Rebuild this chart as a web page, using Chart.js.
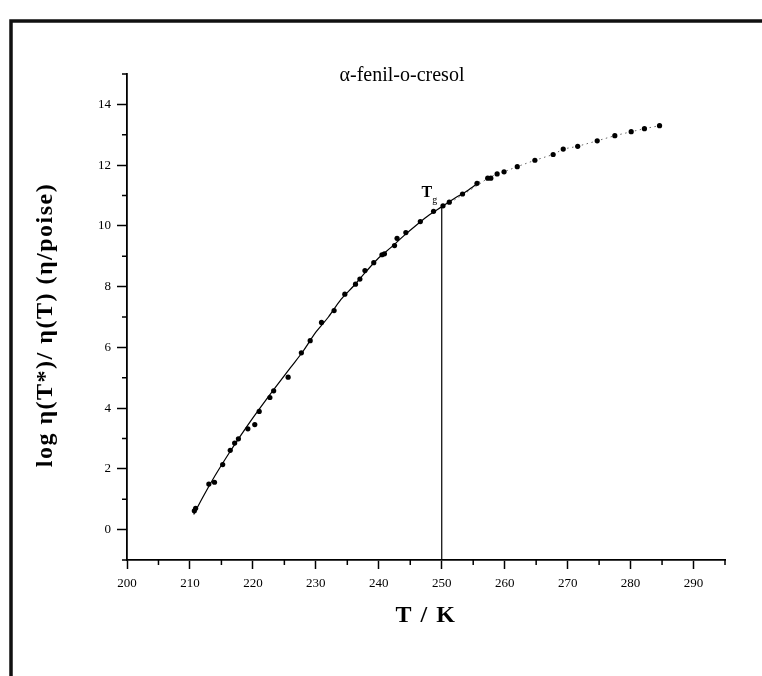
<!DOCTYPE html>
<html>
<head>
<meta charset="utf-8">
<script src="https://cdn.jsdelivr.net/npm/chart.js@4.4.1/dist/chart.umd.min.js"></script>
<style>
  body { margin: 0; background: #fff; }
  #chart { display: block; }
</style>
</head>
<body>
<canvas id="chart" width="762" height="676"></canvas>
<script>
// measured points, T (K) and log eta(T*)/eta(T)
const pointT = [210.7, 210.9, 213.0, 213.9, 215.2, 216.4, 217.1, 217.7, 219.2, 220.3,
  221.0, 222.7, 223.3, 225.6, 227.7, 229.1, 230.9, 232.9, 234.6, 236.3,
  237.0, 237.8, 239.2, 240.5, 240.9, 242.5, 242.9, 244.3, 246.6, 248.7,
  250.2, 251.2, 253.3, 255.6, 257.3, 257.8, 258.8, 259.9, 262.0, 264.8,
  267.7, 269.3, 271.6, 274.7, 277.5, 280.1, 282.2, 284.6];
const pointY = [0.62, 0.70, 1.50, 1.56, 2.14, 2.61, 2.85, 2.99, 3.32, 3.46,
  3.89, 4.35, 4.57, 5.02, 5.82, 6.22, 6.82, 7.21, 7.75, 8.08,
  8.25, 8.53, 8.79, 9.05, 9.08, 9.35, 9.59, 9.78, 10.14, 10.48,
  10.66, 10.78, 11.05, 11.40, 11.57, 11.57, 11.71, 11.78, 11.95, 12.16,
  12.35, 12.53, 12.62, 12.80, 12.97, 13.10, 13.20, 13.30];

// solid fitted curve
const fitT = [210.6, 212, 214, 216, 218, 220, 222, 224, 226, 228, 230, 232,
  234, 236, 238, 240, 242, 244, 246, 248, 250, 252, 254, 256];
const fitY = [0.5, 1.05, 1.78, 2.45, 3.08, 3.68, 4.25, 4.8, 5.34, 5.88, 6.5, 7.0,
  7.58, 8.02, 8.5, 8.95, 9.3, 9.68, 10.03, 10.36, 10.63, 10.9, 11.15, 11.45];

// dotted continuation above Tg
const dotT = [252.0, 253.3, 255.6, 257.3, 258.8, 259.9, 262.0, 264.8, 267.7,
  269.3, 271.6, 274.7, 277.5, 280.1, 282.2, 284.6];
const dotY = [10.85, 11.02, 11.32, 11.57, 11.71, 11.78, 11.95, 12.16, 12.35,
  12.53, 12.62, 12.80, 12.97, 13.10, 13.20, 13.30];

// glass transition
const tgT = 250;
const tgY = 10.63;

const xMin = 200, xMax = 295;
const yMin = -1, yMax = 15;

const chartTitle = 'α-fenil-o-cresol';
const xTitle = 'T / K';
const yTitle = 'log η(T*)/ η(T) (η/poise)';

const serif = "'Liberation Serif', 'DejaVu Serif', serif";

function toXY(xs, ys) {
  return xs.map((x, i) => ({ x: x, y: ys[i] }));
}

// frame, titles, Tg label and minor ticks
const extras = {
  id: 'extras',
  afterDraw(chart) {
    const ctx = chart.ctx;
    const xs = chart.scales.x;
    const ys = chart.scales.y;
    const area = chart.chartArea;
    ctx.save();

    // scan frame
    ctx.strokeStyle = '#111';
    ctx.lineWidth = 3.5;
    ctx.beginPath();
    ctx.moveTo(11, 676);
    ctx.lineTo(11, 21);
    ctx.lineTo(762, 21);
    ctx.stroke();

    // minor ticks
    ctx.strokeStyle = '#000';
    ctx.lineWidth = 1.5;
    ctx.beginPath();
    xs.ticks.forEach(t => {
      if (t.value % 10 !== 0) {
        const px = xs.getPixelForValue(t.value);
        ctx.moveTo(px, xs.top);
        ctx.lineTo(px, xs.top + 5);
      }
    });
    ys.ticks.forEach(t => {
      if (Math.abs(t.value % 2) === 1) {
        const py = ys.getPixelForValue(t.value);
        ctx.moveTo(ys.right, py);
        ctx.lineTo(ys.right - 5, py);
      }
    });
    ctx.stroke();

    // chart title
    ctx.fillStyle = '#000';
    ctx.textAlign = 'center';
    ctx.textBaseline = 'middle';
    ctx.font = '20px ' + serif;
    ctx.fillText(chartTitle, 402, 76);

    // axis titles
    ctx.font = 'bold 24px ' + serif;
    ctx.letterSpacing = '1.5px';
    ctx.fillText(xTitle, (area.left + area.right) / 2, 616);
    ctx.save();
    ctx.translate(46, (area.top + area.bottom) / 2 + 8);
    ctx.rotate(-Math.PI / 2);
    ctx.fillText(yTitle, 0, 0);
    ctx.restore();
    ctx.letterSpacing = '0px';

    // Tg label
    const lx = xs.getPixelForValue(tgT) - 15;
    const ly = ys.getPixelForValue(tgY) - 14;
    ctx.font = 'bold 16px ' + serif;
    ctx.fillText('T', lx, ly);
    ctx.font = '10px ' + serif;
    ctx.fillText('g', lx + 8, ly + 8);

    ctx.restore();
  }
};

new Chart(document.getElementById('chart'), {
  type: 'scatter',
  data: {
    datasets: [
      {
        label: 'datos',
        data: toXY(pointT, pointY),
        pointRadius: 2.6,
        pointBackgroundColor: '#000',
        pointBorderColor: '#000',
        pointBorderWidth: 0,
        showLine: false
      },
      {
        label: 'ajuste',
        data: toXY(fitT, fitY),
        showLine: true,
        pointRadius: 0,
        borderColor: '#000',
        borderWidth: 1.2,
        tension: 0.4,
        cubicInterpolationMode: 'monotone'
      },
      {
        label: 'extrapolacion',
        data: toXY(dotT, dotY),
        showLine: true,
        pointRadius: 0,
        borderColor: '#666',
        borderWidth: 1,
        borderDash: [1.5, 3.5]
      },
      {
        label: 'Tg',
        data: [{ x: tgT, y: yMin }, { x: tgT, y: tgY }],
        showLine: true,
        pointRadius: 0,
        borderColor: '#000',
        borderWidth: 1.2
      }
    ]
  },
  options: {
    responsive: false,
    animation: false,
    devicePixelRatio: 1,
    layout: { padding: { left: 0, top: 74, right: 37, bottom: 0 } },
    plugins: {
      legend: { display: false },
      tooltip: { enabled: false }
    },
    scales: {
      x: {
        type: 'linear',
        min: xMin,
        max: xMax,
        afterFit: scale => { scale.height = 116; },
        border: { display: true, color: '#000', width: 1.8 },
        grid: {
          drawOnChartArea: false,
          drawTicks: true,
          tickLength: 9,
          tickWidth: 1.5,
          tickColor: c => (c.tick && c.tick.value % 10 === 0) ? '#000' : 'rgba(0,0,0,0)'
        },
        ticks: {
          stepSize: 5,
          autoSkip: false,
          maxRotation: 0,
          padding: 7,
          color: '#000',
          font: { family: serif, size: 13 },
          callback: v => (v % 10 === 0 ? v : '')
        }
      },
      y: {
        type: 'linear',
        min: yMin,
        max: yMax,
        afterFit: scale => { scale.width = 127; },
        border: { display: true, color: '#000', width: 1.8 },
        grid: {
          drawOnChartArea: false,
          drawTicks: true,
          tickLength: 10,
          tickWidth: 1.5,
          tickColor: c => (c.tick && c.tick.value % 2 === 0) ? '#000' : 'rgba(0,0,0,0)'
        },
        ticks: {
          stepSize: 1,
          autoSkip: false,
          padding: 6,
          color: '#000',
          font: { family: serif, size: 13 },
          callback: v => (v % 2 === 0 ? v : '')
        }
      }
    }
  },
  plugins: [extras]
});
</script>
</body>
</html>
